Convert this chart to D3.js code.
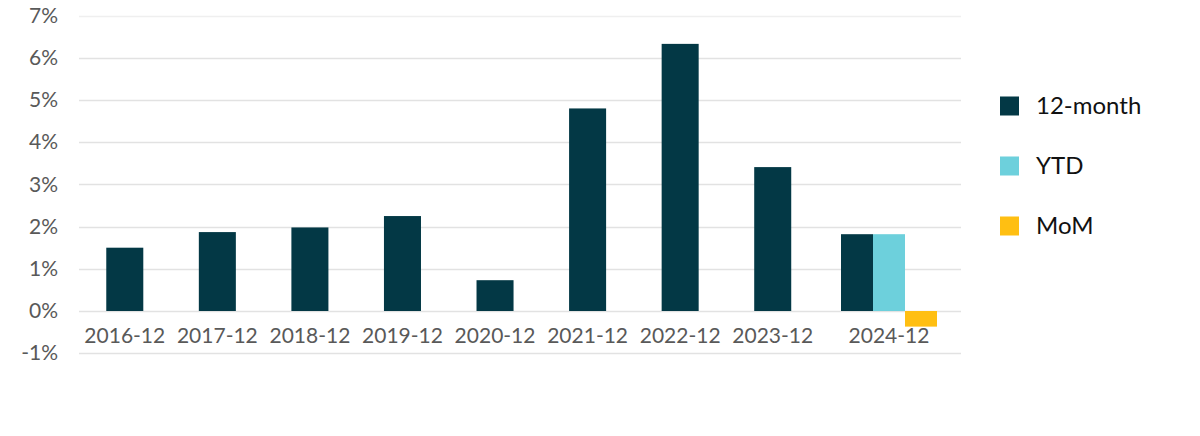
<!DOCTYPE html>
<html>
<head>
<meta charset="utf-8">
<script src="https://cdn.jsdelivr.net/npm/d3@7"></script>
<style>
  html, body { margin: 0; padding: 0; background: #fff; }
  svg text { font-family: Lato, "Open Sans", sans-serif; }
</style>
</head>
<body>
<svg id="chart" width="1200" height="436"></svg>
<script>
const categories = ["2016-12","2017-12","2018-12","2019-12","2020-12","2021-12","2022-12","2023-12","2024-12"];
const twelveMonth = [1.50, 1.87, 1.98, 2.25, 0.73, 4.80, 6.33, 3.41, 1.82];
const ytd = [null, null, null, null, null, null, null, null, 1.82];
const mom = [null, null, null, null, null, null, null, null, -0.37];
const seriesNames = ["12-month", "YTD", "MoM"];
const yTicks = [-1, 0, 1, 2, 3, 4, 5, 6, 7];

const colors = { "12-month": "#033845", "YTD": "#6dd0dc", "MoM": "#ffbf12" };

const svg = d3.select("#chart");

const y = d3.scaleLinear().domain([-1, 7]).range([353.2, 15.6]);

const histCats = categories.slice(0, 8);
const lastCats = categories.slice(8);

const x1 = d3.scaleBand().domain(histCats).range([78.5, 819]).padding(0);
const x2 = d3.scaleBand().domain(lastCats).range([817, 961]).padding(0);

// gridlines
svg.append("g").selectAll("line").data(yTicks).join("line")
  .attr("x1", 79).attr("x2", 961)
  .attr("y1", d => Math.round(y(d)) + 0.5).attr("y2", d => Math.round(y(d)) + 0.5)
  .attr("stroke", d => d === 7 ? "#efefef" : "#e2e2e2")
  .attr("stroke-width", 1.6);

// y axis labels
const yAxis = d3.axisLeft(y).tickValues(yTicks).tickSize(0).tickPadding(0)
  .tickFormat(d => d + "%");
const gy = svg.append("g").attr("transform", "translate(58,0)").call(yAxis);
gy.select(".domain").remove();
gy.selectAll("text").attr("font-size", 21).attr("fill", "#595959")
  .attr("font-family", "Lato, 'Open Sans', sans-serif");

// history bars
const barW1 = x1.bandwidth() * 0.4;
svg.append("g").selectAll("rect").data(histCats.map((c, i) => ({c, v: twelveMonth[i]}))).join("rect")
  .attr("x", d => x1(d.c) + x1.bandwidth() / 2 - barW1 / 2)
  .attr("width", barW1)
  .attr("y", d => y(Math.max(0, d.v)))
  .attr("height", d => Math.abs(y(d.v) - y(0)))
  .attr("fill", colors["12-month"]);

// last group bars
const groupW = 96;
const xs = d3.scaleBand().domain(seriesNames).range([-groupW / 2, groupW / 2]).padding(0);
const lastData = [];
lastCats.forEach(c => {
  const i = categories.indexOf(c);
  const vals = { "12-month": twelveMonth[i], "YTD": ytd[i], "MoM": mom[i] };
  seriesNames.forEach(s => { if (vals[s] != null) lastData.push({c, s, v: vals[s]}); });
});
svg.append("g").selectAll("rect").data(lastData).join("rect")
  .attr("x", d => x2(d.c) + x2.bandwidth() / 2 + xs(d.s))
  .attr("width", xs.bandwidth())
  .attr("y", d => y(Math.max(0, d.v)))
  .attr("height", d => Math.abs(y(d.v) - y(0)))
  .attr("fill", d => colors[d.s]);

// x axis labels
const styleX = g => {
  g.select(".domain").remove();
  g.selectAll("text").attr("font-size", 21).attr("fill", "#595959")
    .attr("font-family", "Lato, 'Open Sans', sans-serif");
};
svg.append("g").attr("transform", "translate(0,328)")
  .call(d3.axisBottom(x1).tickSize(0).tickPadding(0)).call(styleX);
svg.append("g").attr("transform", "translate(0,328)")
  .call(d3.axisBottom(x2).tickSize(0).tickPadding(0)).call(styleX);

// legend
const legend = svg.append("g").attr("transform", "translate(1000,106)");
const li = legend.selectAll("g").data(seriesNames).join("g")
  .attr("transform", (d, i) => `translate(0,${i * 60})`);
li.append("rect").attr("x", 0).attr("y", -9.5).attr("width", 19).attr("height", 19)
  .attr("fill", d => colors[d]);
li.append("text").attr("x", 36).attr("y", 0).attr("dy", "0.35em")
  .attr("font-size", 24).attr("fill", "#111").text(d => d);
</script>
</body>
</html>
